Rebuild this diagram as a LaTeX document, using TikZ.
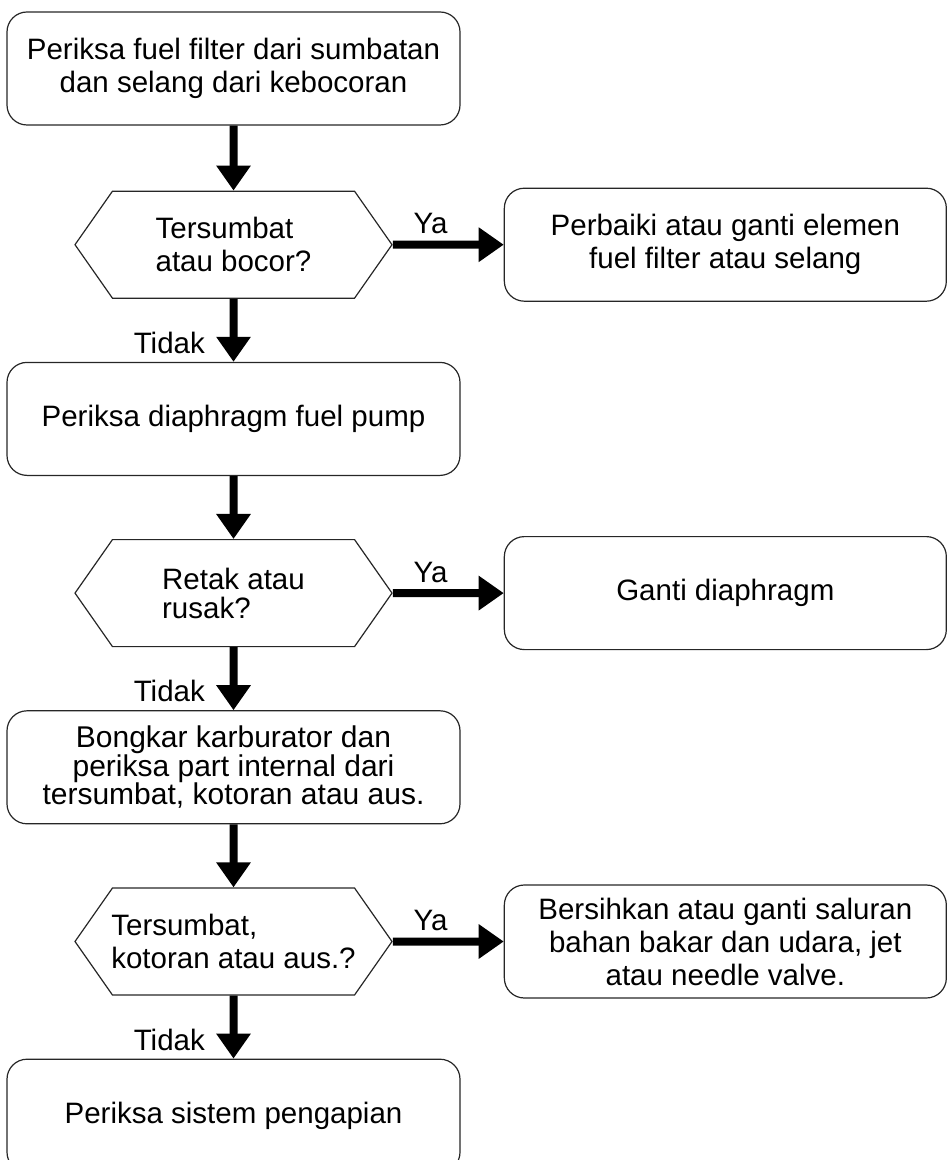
\documentclass[tikz,border=0pt]{standalone}
\usepackage{fontspec}
\setmainfont{Liberation Sans}
\usepackage{tikz}
\usetikzlibrary{shapes.symbols, arrows.meta, positioning}
\tikzstyle{process} = [rectangle, rounded corners=10pt, 
minimum width=226.5pt, 
minimum height=56.5pt,
text centered, 
align=center,
draw=black!85, line width=0.6pt]
\tikzstyle{action} = [process, 
minimum width=221pt]
\tikzstyle{decision} = [signal, 
signal to=west and east, 
signal pointer angle=110, 
minimum width=158.5pt, 
minimum height=53.5pt, 
inner xsep=-3pt,
align=left, 
draw=black!85, line width=0.6pt]
\tikzstyle{arrow} = [line width=4pt,-{Triangle[length=12.5pt,width=16.5pt]}]

\begin{document}
\begin{tikzpicture}[x=0.5pt, y=-0.5pt, node distance=31.5pt, font=\fontsize{14.75pt}{16.5pt}\selectfont]
        \useasboundingbox (0,0) rectangle (948,1160);

        % --- Nodos ---
        \node (cek_filter) [process] at (233.5,68.5) {Periksa fuel filter dari sumbatan\\dan selang dari kebocoran};
        \node (tanya_bocor) [decision, below=32.5pt of cek_filter] {Tersumbat\\atau bocor?};
        \node (ganti_filter) [action, right=55.5pt of tanya_bocor] {Perbaiki atau ganti elemen\\fuel filter atau selang};
        \node (cek_pump) [process, below=of tanya_bocor] {Periksa diaphragm fuel pump};
        \node (tanya_retak) [decision, below=of cek_pump, font=\fontsize{14.75pt}{14.5pt}\selectfont] {Retak atau\\rusak?};
        \node (ganti_diaf) [action, right=55.5pt of tanya_retak] {Ganti diaphragm};
        \node (cek_karbu) [process, below=of tanya_retak, font=\fontsize{15pt}{14.25pt}\selectfont] {Bongkar karburator dan\\periksa part internal dari\\tersumbat, kotoran atau aus.};
        \node (tanya_kotor) [decision, below=of cek_karbu] {Tersumbat,\\kotoran atau aus.?};
        \node (bersihkan) [action, right=55.5pt of tanya_kotor] {Bersihkan atau ganti saluran\\bahan bakar dan udara, jet\\atau needle valve.};
        \node (cek_api) [process, below=of tanya_kotor] {Periksa sistem pengapian};

        % --- Flujo principal ---
        \draw [arrow] (cek_filter) -- (tanya_bocor);
        \draw [arrow] (tanya_bocor) -- node[pos=0.7, left=9pt] {Tidak} (cek_pump);
        \draw [arrow] (cek_pump) -- (tanya_retak);
        \draw [arrow] (tanya_retak) -- node[pos=0.7, left=9pt] {Tidak} (cek_karbu);
        \draw [arrow] (cek_karbu) -- (tanya_kotor);
        \draw [arrow] (tanya_kotor) -- node[pos=0.7, left=9pt] {Tidak} (cek_api);

        % --- Ramas a la derecha ---
        \draw [arrow] (tanya_bocor) -- node[pos=0.34, above] {Ya} (ganti_filter);
        \draw [arrow] (tanya_retak) -- node[pos=0.34, above] {Ya} (ganti_diaf);
        \draw [arrow] (tanya_kotor) -- node[pos=0.34, above] {Ya} (bersihkan);

\end{tikzpicture}
\end{document}
